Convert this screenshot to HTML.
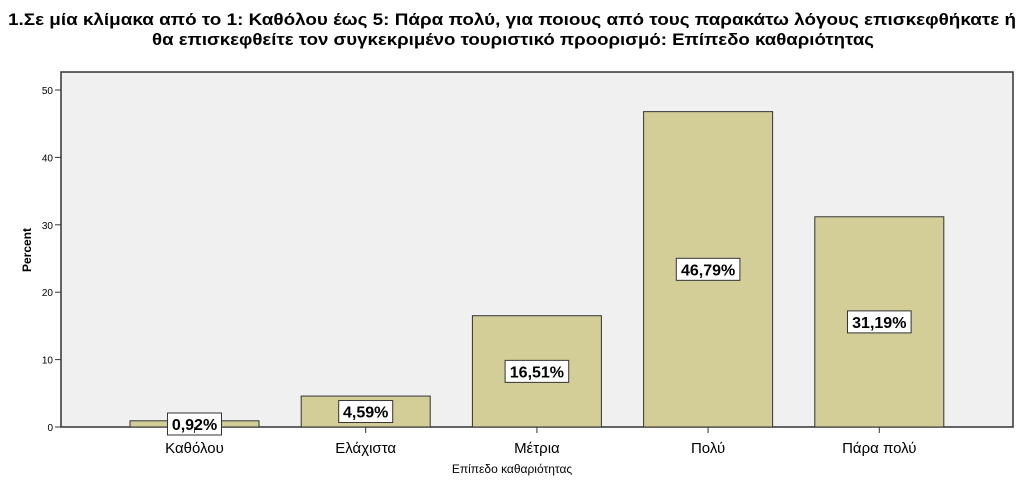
<!DOCTYPE html>
<html><head><meta charset="utf-8"><style>
body{margin:0;background:#fff;width:1024px;height:495px;overflow:hidden}
svg text{font-family:"Liberation Sans",sans-serif}
</style></head><body>
<svg width="1024" height="495">
<text x="8" y="25" textLength="1008" lengthAdjust="spacingAndGlyphs" font-size="17" font-weight="bold">1.Σε μία κλίμακα από το 1: Καθόλου έως 5: Πάρα πολύ, για ποιους από τους παρακάτω λόγους επισκεφθήκατε ή</text>
<text x="152" y="45" textLength="722" lengthAdjust="spacingAndGlyphs" font-size="17" font-weight="bold">θα επισκεφθείτε τον συγκεκριμένο τουριστικό προορισμό: Επίπεδο καθαριότητας</text>
<rect x="61" y="72" width="952" height="355" fill="#f0f0f0" stroke="#333" stroke-width="1.5"/>
<g id="yaxis"></g><g id="bars"></g>
<text x="512" y="473" text-anchor="middle" font-size="12">Επίπεδο καθαριότητας</text>
<text transform="translate(31,250) rotate(-90)" text-anchor="middle" font-size="12" font-weight="bold">Percent</text>
</svg>
<script>
const categories=["Καθόλου","Ελάχιστα","Μέτρια","Πολύ","Πάρα πολύ"];
const values=[0.92,4.59,16.51,46.79,31.19];
const valueLabels=["0,92%","4,59%","16,51%","46,79%","31,19%"];
const yTicks=[0,10,20,30,40,50];
const NS="http://www.w3.org/2000/svg";
const y=v=>427-v*6.74;
const xc=i=>194.5+i*171.2;
function mk(t,a,p){const e=document.createElementNS(NS,t);for(const k in a)e.setAttribute(k,a[k]);p.appendChild(e);return e;}
const ya=document.getElementById('yaxis');
yTicks.forEach(t=>{
 const l=mk('line',{x1:55,x2:61,y1:y(t),y2:y(t),stroke:'#333'},ya);
 
 
 const tx=mk('text',{x:53,y:y(t)+4,'text-anchor':'end','font-size':10},ya);
 tx.textContent=t;
 
 
});
const bg=document.getElementById('bars');
categories.forEach((c,i)=>{
 const v=values[i],cx=xc(i);
 const r=mk('rect',{x:cx-64.5,y:y(v),width:129,height:427-y(v),fill:'#d3ce97',stroke:'#333','stroke-width':1},bg);
 
 
 let ly=(y(v)+427)/2; if(ly>415)ly=Math.min(ly,411); if(v<2)ly=424;
 const w=valueLabels[i].length*9.6+6;
 const b=mk('rect',{x:cx-w/2,y:ly-11,width:w,height:22,fill:'#fff',stroke:'#333','stroke-width':1},bg);
 
 
 const t=mk('text',{x:cx,y:ly+6,'text-anchor':'middle','font-size':16,'font-weight':'bold'},bg);
 t.textContent=valueLabels[i];
 
 
 const tk=mk('line',{x1:cx,x2:cx,y1:427,y2:433,stroke:'#333'},bg);
 
 
 const xl=mk('text',{x:cx,y:453,'text-anchor':'middle','font-size':15},bg);
 xl.textContent=c;
 
 
});
</script>
</body></html>
